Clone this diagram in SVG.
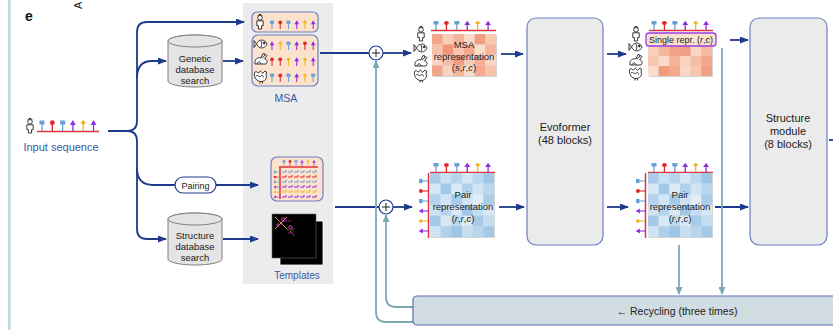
<svg xmlns="http://www.w3.org/2000/svg" width="833" height="330" viewBox="0 0 833 330">
<defs>
<style>
.flow{fill:none;stroke:#1d3a8c;stroke-width:1.8}
.recy{fill:none;stroke:#7ea8b4;stroke-width:1.8}
.t{font-family:"Liberation Sans",Arial,sans-serif;fill:#222;text-anchor:middle}
.s95{font-size:9.5px}
.s11{font-size:11px}
.blue{fill:#3a56a6}
.db{fill:#e4e4e4;stroke:#808080;stroke-width:1}
.block{fill:#ebebeb;stroke:#6e80c2;stroke-width:1.2}
.msa{fill:#fbe2cd;stroke:#6e80c2;stroke-width:1.2}
.icon{fill:#fff;stroke:#222;stroke-width:0.9;stroke-linejoin:round}
.plus{fill:#fff;stroke:#1d3a8c;stroke-width:1.2}
.seq{stroke:#e0353d;stroke-width:1.5}
.shadow{fill:#b8b8b8;opacity:0.6}
</style>
<marker id="ah" markerWidth="9" markerHeight="7" refX="8" refY="3.5" orient="auto" markerUnits="userSpaceOnUse"><path d="M0,0 L9,3.5 L0,7 z" fill="#1d3a8c"/></marker>
<marker id="ahT" markerWidth="8" markerHeight="7" refX="7" refY="3.5" orient="auto" markerUnits="userSpaceOnUse"><path d="M0,0 L8,3.5 L0,7 z" fill="#7ea8b4"/></marker>
<!-- residue ticks: base at (0,0), pointing up -->
<g id="tkB"><line x1="0" y1="0" x2="0" y2="-7" stroke="#6a9fd4" stroke-width="1.3"/><rect x="-2.5" y="-10.5" width="5" height="4" fill="#6a9fd4"/></g>
<g id="tkR"><line x1="0" y1="0" x2="0" y2="-7" stroke="#e3262e" stroke-width="1.3"/><circle cx="0" cy="-8.3" r="2.4" fill="#e3262e"/></g>
<g id="tkP"><line x1="0" y1="0" x2="0" y2="-6.5" stroke="#8e2de2" stroke-width="1.3"/><path d="M-2.9,-6 L2.9,-6 L0,-11 z" fill="#8e2de2"/></g>
<g id="tkY"><line x1="0" y1="0" x2="0" y2="-6.5" stroke="#f0b323" stroke-width="1.3"/><path d="M0,-11 L2.6,-8.3 L0,-5.8 L-2.6,-8.3 z" fill="#f0b323"/></g>
<g id="row6"><use href="#tkB" x="0"/><use href="#tkR" x="10.3"/><use href="#tkB" x="20.6"/><use href="#tkP" x="30.9"/><use href="#tkY" x="41.2"/><use href="#tkP" x="51.5"/></g>
<!-- organism icons, centred on (0,0) -->
<g id="human" class="icon"><circle cx="0" cy="-4.2" r="2.3"/><path d="M-3.2,-1.2 H3.2 V3.6 H1.6 V7 H-1.6 V3.6 H-3.2 Z"/><path d="M-2.2,-6 L-1,-7.5 L1,-7.5 L2.2,-6" fill="none"/></g>
<g id="fish" class="icon"><path d="M-4.5,0 C-2,-5.5 4,-5 6,0 C4,5 -2,5.5 -4.5,0 Z"/><path d="M-4.5,0 L-7,-3.5 L-7,3.5 Z"/><circle cx="3.2" cy="-1" r="0.9" fill="#222"/><path d="M0,-3 C1,0 1,1 0,3" fill="none"/></g>
<g id="rabbit" class="icon"><path d="M-6,4 C-7,-1 -3,-3 0,-2 L2,-6.5 L4,-6 L3,-1.5 C6,-1 7,2 5,4 Z"/><path d="M1,-2 L5,-5.5 L6,-4.5 L3.5,-1" /><path d="M-4,4 C-3,1 -1,1 0,4" fill="none"/></g>
<g id="rooster" class="icon"><path d="M-6.5,-3 C-5,-7 -3,-1 -1.5,-4 C0,-7 1,-1 2,-3 L4,-5 L5.5,-4 L5,-1 C6.5,2 4,5.5 0,5.5 C-4,5.5 -7,2 -6.5,-3 Z"/><path d="M-5,0 C-3,-2 -2,2 0,0 C2,-2 2,2 3,1" fill="none"/><path d="M-1,5.5 V7.5 M1.5,5.5 V7.5" fill="none"/></g>
<!-- pair representation heat map, unit cells -->
<g id="pairGrid">
<rect x="0" y="0" width="6" height="6" fill="#c4ddf0"/>
<rect x="0" y="0" width="1" height="1" fill="#a9cde9"/><rect x="1" y="0" width="1" height="1" fill="#c9e0f2"/><rect x="2" y="0" width="1" height="1" fill="#b6d5ed"/><rect x="3" y="0" width="1" height="1" fill="#d3e6f4"/><rect x="4" y="0" width="1" height="1" fill="#bcd8ee"/><rect x="5" y="0" width="1" height="1" fill="#9ec6e6"/>
<rect x="0" y="1" width="1" height="1" fill="#d7e8f5"/><rect x="1" y="1" width="1" height="1" fill="#a2c9e7"/><rect x="2" y="1" width="1" height="1" fill="#dbeaf6"/><rect x="3" y="1" width="1" height="1" fill="#b0d2ec"/><rect x="4" y="1" width="1" height="1" fill="#d0e4f3"/><rect x="5" y="1" width="1" height="1" fill="#b9d7ee"/>
<rect x="0" y="2" width="1" height="1" fill="#b3d3ec"/><rect x="1" y="2" width="1" height="1" fill="#d2e5f4"/><rect x="2" y="2" width="1" height="1" fill="#a6cbe8"/><rect x="3" y="2" width="1" height="1" fill="#cfe3f3"/><rect x="4" y="2" width="1" height="1" fill="#e1eef8"/><rect x="5" y="2" width="1" height="1" fill="#aacde9"/>
<rect x="0" y="3" width="1" height="1" fill="#cde2f3"/><rect x="1" y="3" width="1" height="1" fill="#b4d4ed"/><rect x="2" y="3" width="1" height="1" fill="#d9e9f5"/><rect x="3" y="3" width="1" height="1" fill="#a0c7e6"/><rect x="4" y="3" width="1" height="1" fill="#c6def1"/><rect x="5" y="3" width="1" height="1" fill="#d6e7f5"/>
<rect x="0" y="4" width="1" height="1" fill="#a4cae7"/><rect x="1" y="4" width="1" height="1" fill="#d8e9f5"/><rect x="2" y="4" width="1" height="1" fill="#bad8ee"/><rect x="3" y="4" width="1" height="1" fill="#dcebf6"/><rect x="4" y="4" width="1" height="1" fill="#a8cce8"/><rect x="5" y="4" width="1" height="1" fill="#c2dcf0"/>
<rect x="0" y="5" width="1" height="1" fill="#d1e4f3"/><rect x="1" y="5" width="1" height="1" fill="#aed0ea"/><rect x="2" y="5" width="1" height="1" fill="#9dc5e5"/><rect x="3" y="5" width="1" height="1" fill="#c8dff1"/><rect x="4" y="5" width="1" height="1" fill="#b7d6ed"/><rect x="5" y="5" width="1" height="1" fill="#a3c9e7"/>
</g>
</defs>

<rect x="0" y="0" width="833" height="330" fill="#fff"/>
<rect x="8" y="0" width="2.5" height="330" fill="#b9dcdf"/>
<text x="25" y="21" font-family="Liberation Sans,Arial,sans-serif" font-size="14" font-weight="bold" fill="#111">e</text>
<text transform="translate(82,9) rotate(-90)" font-family="Liberation Sans,Arial,sans-serif" font-size="11" fill="#222">A</text>

<!-- shaded panel behind the database outputs -->
<rect x="243" y="3" width="90" height="281" fill="#ececec"/>

<!-- connectors -->
<g id="connectors">
<path class="flow" d="M108,131 H127 Q137,131 137,121 V32 Q137,22 147,22 H244" marker-end="url(#ah)"/>
<path class="flow" d="M137,78 Q137,61 152,61 H166" marker-end="url(#ah)"/>
<path class="flow" d="M127,131 Q137,131 137,141 V229 Q137,239 147,239 H166" marker-end="url(#ah)"/>
<path class="flow" d="M137,168 Q137,185 153,185 H175"/>
<path class="flow" d="M223,61 H243" marker-end="url(#ah)"/>
<path class="flow" d="M216,185 H258" marker-end="url(#ah)"/>
<path class="flow" d="M223,239 H258" marker-end="url(#ah)"/>
<path class="flow" d="M320,53 H369"/>
<path class="flow" d="M383,53 H411" marker-end="url(#ah)"/>
<path class="flow" d="M335,207 H379"/>
<path class="flow" d="M393,207 H412" marker-end="url(#ah)"/>
<path class="flow" d="M501,54 H523" marker-end="url(#ah)"/>
<path class="flow" d="M499,207 H524" marker-end="url(#ah)"/>
<path class="flow" d="M607,54 H626" marker-end="url(#ah)"/>
<path class="flow" d="M607,207 H628" marker-end="url(#ah)"/>
<path class="flow" d="M730,40 H748" marker-end="url(#ah)"/>
<path class="flow" d="M715,207 H748" marker-end="url(#ah)"/>
<path class="flow" d="M829,140 H833"/>
<path class="recy" d="M679,245 V294" marker-end="url(#ahT)"/>
<path class="recy" d="M722,48 V294" marker-end="url(#ahT)"/>
<path class="recy" d="M413,322 H386 Q376,322 376,312 V61" marker-end="url(#ahT)"/>
<path class="recy" d="M413,307 H396 Q386,307 386,297 V215" marker-end="url(#ahT)"/>
</g>

<!-- input sequence -->
<g id="input">
<use href="#human" x="30" y="126"/>
<line class="seq" x1="37" y1="131.5" x2="99" y2="131.5"/>
<use href="#row6" x="42" y="131"/>
<text class="t s11 blue" x="61" y="151">Input sequence</text>
</g>

<!-- genetic database search -->
<g id="genetic-db">
<path class="db" d="M168,41 A27,6 0 0 1 222,41 V81 A27,6 0 0 1 168,81 Z"/>
<ellipse class="db" cx="195" cy="41" rx="27" ry="6"/>
<text class="t s95" x="195" y="62">Genetic</text>
<text class="t s95" x="195" y="73">database</text>
<text class="t s95" x="195" y="84">search</text>
</g>

<!-- pairing -->
<g id="pairing">
<rect x="175" y="177" width="41" height="16" rx="8" fill="#fff" stroke="#1d3a8c" stroke-width="1.2"/>
<text class="t" font-size="9" x="195.5" y="188.5">Pairing</text>
</g>

<!-- structure database search -->
<g id="structure-db">
<path class="db" d="M168,219 A27,6 0 0 1 222,219 V259 A27,6 0 0 1 168,259 Z"/>
<ellipse class="db" cx="195" cy="219" rx="27" ry="6"/>
<text class="t s95" x="195" y="239">Structure</text>
<text class="t s95" x="195" y="250">database</text>
<text class="t s95" x="195" y="261">search</text>
</g>

<!-- MSA -->
<g id="msa">
<rect class="msa" x="252" y="12" width="66" height="20" rx="5"/>
<use href="#human" x="260" y="22"/>
<g transform="translate(272,29) scale(0.8)"><use href="#row6"/></g>
<rect class="msa" x="252" y="35" width="66" height="51" rx="6"/>
<use href="#fish" x="261" y="44"/>
<g transform="translate(272,50) scale(0.8)"><use href="#tkP" x="0"/><use href="#tkY" x="10.3"/><use href="#tkB" x="20.6"/><use href="#tkP" x="30.9"/><use href="#tkR" x="41.2"/><use href="#tkP" x="51.5"/></g>
<use href="#rabbit" x="261" y="60"/>
<g transform="translate(272,66) scale(0.8)"><use href="#tkR" x="0"/><use href="#tkR" x="10.3"/><use href="#tkY" x="20.6"/><use href="#tkP" x="30.9"/><use href="#tkY" x="41.2"/><use href="#tkP" x="51.5"/></g>
<use href="#rooster" x="261" y="76"/>
<g transform="translate(272,82) scale(0.8)"><use href="#tkB" x="0"/><use href="#tkR" x="10.3"/><use href="#tkB" x="20.6"/><use href="#tkP" x="30.9"/><use href="#tkY" x="41.2"/><use href="#tkB" x="51.5"/></g>
<text class="t blue" font-size="10.5" x="286" y="102">MSA</text>
</g>

<!-- template pair features -->
<g id="template-pairs">
<rect class="msa" x="271" y="157" width="52" height="44" rx="6"/>
<line class="seq" x1="279" y1="167" x2="318" y2="167"/>
<line class="seq" x1="280" y1="167" x2="280" y2="199"/>
<g transform="translate(284,166) scale(0.55)"><use href="#row6" transform="scale(1.06,1)"/></g>
<use href="#tkB" transform="translate(279,172) rotate(-90) scale(0.5)"/>
<use href="#tkR" transform="translate(279,177) rotate(-90) scale(0.5)"/>
<use href="#tkB" transform="translate(279,182) rotate(-90) scale(0.5)"/>
<use href="#tkP" transform="translate(279,187) rotate(-90) scale(0.5)"/>
<use href="#tkY" transform="translate(279,192) rotate(-90) scale(0.5)"/>
<use href="#tkP" transform="translate(279,197) rotate(-90) scale(0.5)"/>
<g fill="none" stroke-width="1">
<path stroke="#6a9fd4" d="M282,172h4v-2M288,172h4v-2M294,172h4v-2M300,172h4v-2M306,172h4v-2M312,172h4v-2"/>
<path stroke="#e3262e" d="M282,177h4v-2M288,177h4v-2M294,177h4v-2M300,177h4v-2M306,177h4v-2M312,177h4v-2"/>
<path stroke="#6a9fd4" d="M282,182h4v-2M288,182h4v-2M294,182h4v-2M300,182h4v-2M306,182h4v-2M312,182h4v-2"/>
<path stroke="#8e2de2" d="M282,187h4v-2M288,187h4v-2M294,187h4v-2M300,187h4v-2M306,187h4v-2M312,187h4v-2"/>
<path stroke="#f0b323" d="M282,192h4v-2M288,192h4v-2M294,192h4v-2M300,192h4v-2M306,192h4v-2M312,192h4v-2"/>
<path stroke="#8e2de2" d="M282,197h4v-2M288,197h4v-2M294,197h4v-2M300,197h4v-2M306,197h4v-2M312,197h4v-2"/>
</g>
</g>

<!-- template structures -->
<g id="templates">
<rect x="280" y="221" width="43" height="44" fill="#000" stroke="#fff" stroke-width="0.8"/>
<rect x="272" y="214" width="44" height="44" fill="#000" stroke="#666" stroke-width="0.6"/>
<g stroke-width="1" fill="none">
<path stroke="#e8894a" d="M275,217 L287,229 M287,217 L275,229"/>
<path stroke="#e8894a" stroke-dasharray="1,1" d="M287,229 L295,236 M290,232 L295,228"/>
<path stroke="#c03aa8" d="M282,218 h3 v3 h-3 z M277,224 h2 v2 h-2 z M289,226 h3 v3 h-3 z"/>
<path stroke="#c03aa8" stroke-dasharray="1,1" d="M286,221 h6 M288,233 h5"/>
</g>
<text class="t blue" font-size="10" x="297" y="279">Templates</text>
</g>

<!-- combine nodes -->
<g id="plus-msa">
<circle class="plus" cx="376" cy="53" r="7"/>
<path d="M372,53 H380 M376,49 V57" stroke="#222" stroke-width="1"/>
</g>
<g id="plus-pair">
<circle class="plus" cx="386" cy="207" r="7"/>
<path d="M382,207 H390 M386,203 V211" stroke="#222" stroke-width="1"/>
</g>

<!-- MSA representation -->
<g id="msa-rep">
<use href="#human" x="421" y="34"/>
<use href="#fish" x="421" y="48"/>
<use href="#rabbit" x="421" y="62"/>
<use href="#rooster" x="421" y="75"/>
<line class="seq" x1="431" y1="30.5" x2="496" y2="30.5"/>
<g transform="translate(436,30) scale(0.85)"><use href="#row6" transform="scale(1.19,1)"/></g>
<rect class="shadow" x="433" y="35" width="64" height="42"/>
<g transform="translate(432,34) scale(10.667,10.5)">
<rect x="0" y="0" width="1" height="1" fill="#f4a488"/><rect x="1" y="0" width="1" height="1" fill="#f9cdb9"/><rect x="2" y="0" width="1" height="1" fill="#f6b49a"/><rect x="3" y="0" width="1" height="1" fill="#fbd9c9"/><rect x="4" y="0" width="1" height="1" fill="#f29c80"/><rect x="5" y="0" width="1" height="1" fill="#f9c8b3"/>
<rect x="0" y="1" width="1" height="1" fill="#f8c1aa"/><rect x="1" y="1" width="1" height="1" fill="#f19678"/><rect x="2" y="1" width="1" height="1" fill="#f8c6b0"/><rect x="3" y="1" width="1" height="1" fill="#f3a88d"/><rect x="4" y="1" width="1" height="1" fill="#fcdccd"/><rect x="5" y="1" width="1" height="1" fill="#f6b79e"/>
<rect x="0" y="2" width="1" height="1" fill="#fad3c2"/><rect x="1" y="2" width="1" height="1" fill="#f7bca3"/><rect x="2" y="2" width="1" height="1" fill="#f29c80"/><rect x="3" y="2" width="1" height="1" fill="#f9c9b3"/><rect x="4" y="2" width="1" height="1" fill="#f5ae94"/><rect x="5" y="2" width="1" height="1" fill="#fbd7c7"/>
<rect x="0" y="3" width="1" height="1" fill="#f3a58a"/><rect x="1" y="3" width="1" height="1" fill="#fad2c0"/><rect x="2" y="3" width="1" height="1" fill="#f6b69c"/><rect x="3" y="3" width="1" height="1" fill="#fcdccc"/><rect x="4" y="3" width="1" height="1" fill="#f4aa8f"/><rect x="5" y="3" width="1" height="1" fill="#f8c3ad"/>
</g>
<text class="t s95" x="464" y="48">MSA</text>
<text class="t s95" x="464" y="59.5">representation</text>
<text class="t s95" x="464" y="71">(<tspan font-style="italic">s</tspan>,<tspan font-style="italic">r</tspan>,<tspan font-style="italic">c</tspan>)</text>
</g>

<!-- pair representation (input side) -->
<g id="pair-rep-in">
<line class="seq" x1="430" y1="172.5" x2="495" y2="172.5"/>
<line class="seq" x1="428.5" y1="173" x2="428.5" y2="238"/>
<g transform="translate(436,172) scale(0.85)"><use href="#row6" transform="scale(1.19,1)"/></g>
<use href="#tkB" transform="translate(428,181) rotate(-90) scale(0.85)"/>
<use href="#tkR" transform="translate(428,191) rotate(-90) scale(0.85)"/>
<use href="#tkB" transform="translate(428,201) rotate(-90) scale(0.85)"/>
<use href="#tkP" transform="translate(428,211) rotate(-90) scale(0.85)"/>
<use href="#tkY" transform="translate(428,221) rotate(-90) scale(0.85)"/>
<use href="#tkP" transform="translate(428,231) rotate(-90) scale(0.85)"/>
<rect class="shadow" x="431" y="174" width="64" height="64"/>
<use href="#pairGrid" transform="translate(430,173) scale(10.667)"/>
<text class="t s95" x="463" y="198">Pair</text>
<text class="t s95" x="463" y="210">representation</text>
<text class="t s95" x="463" y="221.5">(<tspan font-style="italic">r</tspan>,<tspan font-style="italic">r</tspan>,<tspan font-style="italic">c</tspan>)</text>
</g>

<!-- Evoformer -->
<g id="evoformer">
<rect class="block" x="527" y="18" width="76" height="227" rx="9"/>
<text class="t s11" x="565" y="131">Evoformer</text>
<text class="t s11" x="565" y="144">(48 blocks)</text>
</g>

<!-- single representation -->
<g id="single-rep">
<use href="#human" x="636" y="34"/>
<use href="#fish" x="636" y="47"/>
<use href="#rabbit" x="636" y="61"/>
<use href="#rooster" x="636" y="73"/>
<line class="seq" x1="649" y1="30.5" x2="713" y2="30.5"/>
<g transform="translate(654,30) scale(0.85)"><use href="#row6" transform="scale(1.19,1)"/></g>
<rect class="shadow" x="649" y="47" width="64" height="30"/>
<g transform="translate(648,46) scale(10.667,10)">
<rect x="0" y="0" width="1" height="1" fill="#fad0bd"/><rect x="1" y="0" width="1" height="1" fill="#f6b69c"/><rect x="2" y="0" width="1" height="1" fill="#f3a388"/><rect x="3" y="0" width="1" height="1" fill="#f29e82"/><rect x="4" y="0" width="1" height="1" fill="#fad5c4"/><rect x="5" y="0" width="1" height="1" fill="#f6b89f"/>
<rect x="0" y="1" width="1" height="1" fill="#f8c7b1"/><rect x="1" y="1" width="1" height="1" fill="#fbd9ca"/><rect x="2" y="1" width="1" height="1" fill="#f6b297"/><rect x="3" y="1" width="1" height="1" fill="#fad2c0"/><rect x="4" y="1" width="1" height="1" fill="#f7bda4"/><rect x="5" y="1" width="1" height="1" fill="#f3a68b"/>
<rect x="0" y="2" width="1" height="1" fill="#fbdccd"/><rect x="1" y="2" width="1" height="1" fill="#f19a7d"/><rect x="2" y="2" width="1" height="1" fill="#f4a98e"/><rect x="3" y="2" width="1" height="1" fill="#fbd6c5"/><rect x="4" y="2" width="1" height="1" fill="#f8c4ad"/><rect x="5" y="2" width="1" height="1" fill="#f29f83"/>
</g>
<rect x="646" y="33" width="70" height="13" rx="3" fill="#fbe2cd" stroke="#9b3be6" stroke-width="1.3"/>
<text class="t" font-size="9" x="681" y="43">Single repr. (<tspan font-style="italic">r</tspan>,<tspan font-style="italic">c</tspan>)</text>
</g>

<!-- pair representation (output side) -->
<g id="pair-rep-out">
<line class="seq" x1="648" y1="172.5" x2="713" y2="172.5"/>
<line class="seq" x1="645.5" y1="173" x2="645.5" y2="238"/>
<g transform="translate(654,172) scale(0.85)"><use href="#row6" transform="scale(1.19,1)"/></g>
<use href="#tkB" transform="translate(645,181) rotate(-90) scale(0.85)"/>
<use href="#tkR" transform="translate(645,191) rotate(-90) scale(0.85)"/>
<use href="#tkB" transform="translate(645,201) rotate(-90) scale(0.85)"/>
<use href="#tkP" transform="translate(645,211) rotate(-90) scale(0.85)"/>
<use href="#tkY" transform="translate(645,221) rotate(-90) scale(0.85)"/>
<use href="#tkP" transform="translate(645,231) rotate(-90) scale(0.85)"/>
<rect class="shadow" x="649" y="174" width="64" height="64"/>
<use href="#pairGrid" transform="translate(648,173) scale(10.667)"/>
<text class="t s95" x="680" y="198">Pair</text>
<text class="t s95" x="680" y="210">representation</text>
<text class="t s95" x="680" y="221.5">(<tspan font-style="italic">r</tspan>,<tspan font-style="italic">r</tspan>,<tspan font-style="italic">c</tspan>)</text>
</g>

<!-- structure module -->
<g id="structure-module">
<rect class="block" x="750" y="18" width="77" height="227" rx="9"/>
<text class="t s11" x="788" y="122">Structure</text>
<text class="t s11" x="788" y="135">module</text>
<text class="t s11" x="788" y="148">(8 blocks)</text>
</g>

<!-- recycling -->
<g id="recycling">
<rect x="413" y="296" width="430" height="29" rx="4" fill="#d1dde2" stroke="#5b70b3" stroke-width="1.2"/>
<text class="t" font-size="10.5" x="677" y="315">← Recycling (three times)</text>
</g>
</svg>
